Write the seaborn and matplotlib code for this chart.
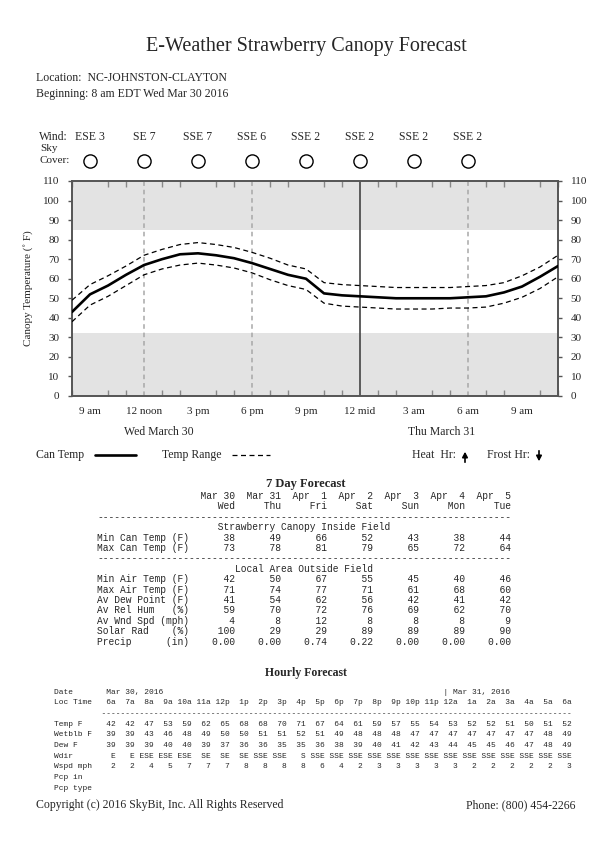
import matplotlib
matplotlib.use("Agg")
import matplotlib.pyplot as plt
import matplotlib.transforms as mtransforms
from matplotlib.lines import Line2D
from matplotlib.patches import FancyArrowPatch
from matplotlib.ticker import FixedLocator
import seaborn as sns

# hours since midnight Wed (8 am Wed .. 11 am Thu)
hours = [8, 9, 10, 11, 12, 13, 14, 15, 16, 17, 18, 19, 20, 21,
         22, 23, 24, 25, 26, 27, 28, 29, 30, 31, 32, 33, 34, 35]
can_temp = [43, 52, 56.5, 62, 67, 70, 72.5, 73, 72, 70.5, 68, 65, 62, 60,
            52.5, 51.5, 51, 50.5, 50, 50, 50, 50, 50.5, 51, 53, 56, 61, 66.5]
range_hi = [49, 57, 61.5, 66.5, 72, 75, 77.5, 78.5, 77.5, 76, 73.5, 70.5, 67, 65,
            58, 57, 56.5, 56, 55.5, 55.5, 55.5, 55.5, 56, 56.5, 58, 61.5, 66, 72]
range_lo = [38, 46.5, 51, 56.5, 62, 65, 67, 68, 67, 65.5, 63, 59.5, 56.5, 54.5,
            47.5, 46, 45.5, 45, 44.5, 44.5, 44.5, 45, 45, 45.5, 47.5, 50.5, 55, 61]

tick_hours = [9, 12, 15, 18, 21, 24, 27, 30, 33]
tick_labels = ["9 am", "12 noon", "3 pm", "6 pm", "9 pm", "12 mid", "3 am", "6 am", "9 am"]

wind_hours = [9, 12, 15, 18, 21, 24, 27, 30]
winds = ["ESE 3", "SE 7", "SSE 7", "SSE 6", "SSE 2", "SSE 2", "SSE 2", "SSE 2"]

# 7 day forecast
dates7 = ["Mar 30", "Mar 31", "Apr  1", "Apr  2", "Apr  3", "Apr  4", "Apr  5"]
days7 = ["Wed", "Thu", "Fri", "Sat", "Sun", "Mon", "Tue"]
min_can = [38, 49, 66, 52, 43, 38, 44]
max_can = [73, 78, 81, 79, 65, 72, 64]
min_air = [42, 50, 67, 55, 45, 40, 46]
max_air = [71, 74, 77, 71, 61, 68, 60]
dew_pt = [41, 54, 62, 56, 42, 41, 42]
rel_hum = [59, 70, 72, 76, 69, 62, 70]
wnd_spd = [4, 8, 12, 8, 8, 8, 9]
solar = [100, 29, 29, 89, 89, 89, 90]
precip = [0.00, 0.00, 0.74, 0.22, 0.00, 0.00, 0.00]

# hourly forecast
hr_labels = ["6a", "7a", "8a", "9a", "10a", "11a", "12p", "1p", "2p", "3p", "4p", "5p", "6p",
             "7p", "8p", "9p", "10p", "11p", "12a", "1a", "2a", "3a", "4a", "5a", "6a"]
hr_temp = [42, 42, 47, 53, 59, 62, 65, 68, 68, 70, 71, 67, 64, 61, 59, 57, 55, 54, 53, 52, 52, 51, 50, 51, 52]
hr_wetblb = [39, 39, 43, 46, 48, 49, 50, 50, 51, 51, 52, 51, 49, 48, 48, 48, 47, 47, 47, 47, 47, 47, 47, 48, 49]
hr_dew = [39, 39, 39, 40, 40, 39, 37, 36, 36, 35, 35, 36, 38, 39, 40, 41, 42, 43, 44, 45, 45, 46, 47, 48, 49]
hr_wdir = ["E", "E", "ESE", "ESE", "ESE", "SE", "SE", "SE", "SSE", "SSE", "S", "SSE", "SSE",
           "SSE", "SSE", "SSE", "SSE", "SSE", "SSE", "SSE", "SSE", "SSE", "SSE", "SSE", "SSE"]
hr_wspd = [2, 2, 4, 5, 7, 7, 7, 8, 8, 8, 8, 6, 4, 2, 3, 3, 3, 3, 3, 2, 2, 2, 2, 2, 3]

sns.set_theme(style="white")
plt.rcParams["font.family"] = ["Liberation Serif", "DejaVu Serif"]

W, H = 612, 864
fig = plt.figure(figsize=(W / 100, H / 100), dpi=100)


def fx(x):
    return x / W


def fy(y):
    return 1 - y / H


ax = fig.add_axes([fx(72), fy(396), (558 - 72) / W, (396 - 181) / H])
ax.set_xlim(8, 35)
ax.set_ylim(0, 110)

# shaded bands
ax.axhspan(0, 32, color="#e3e3e3", lw=0, zorder=0)
ax.axhspan(85, 110, color="#e3e3e3", lw=0, zorder=0)
for h in [12, 18, 30]:
    ax.axvline(h, color="#a8a8a8", lw=1.1, ls=(0, (3, 2.5)), zorder=1)
ax.axvline(24, color="#444444", lw=1.2, zorder=1)

sns.lineplot(x=hours, y=range_hi, ax=ax, color="black", lw=0.9, ls=(0, (4, 2.8)), zorder=3)
sns.lineplot(x=hours, y=range_lo, ax=ax, color="black", lw=0.9, ls=(0, (4, 2.8)), zorder=3)
sns.lineplot(x=hours, y=can_temp, ax=ax, color="black", lw=1.9, zorder=4)

for s in ax.spines.values():
    s.set_color("#555555")
    s.set_linewidth(1.4)

ax.xaxis.set_major_locator(FixedLocator(tick_hours))
ax.set_xticklabels(tick_labels)
ax.xaxis.set_minor_locator(FixedLocator(hours))
ax.tick_params(axis="x", which="major", length=0, pad=8, labelsize=8)
ax.tick_params(axis="x", which="minor", direction="in", length=4, width=1,
               color="#888888", bottom=True, top=True)
ax.set_yticks(range(0, 111, 10))
ax.tick_params(axis="y", which="major", direction="out", length=3, width=1,
               color="#555555", labelsize=8, left=True, right=True,
               labelleft=True, labelright=True, pad=6)
ax.set_xlabel("")
ax.set_ylabel("")

fig.text(fx(28), fy(288), "Canopy Temperature (\u02da F)", rotation=90,
         ha="center", va="center", fontsize=8)

# header
fig.text(0.5, fy(47), "E-Weather Strawberry Canopy Forecast", ha="center", va="center", fontsize=14.5)
fig.text(fx(36), fy(78), "Location:  NC-JOHNSTON-CLAYTON", ha="left", va="center", fontsize=8.5)
fig.text(fx(36), fy(94), "Beginning: 8 am EDT Wed Mar 30 2016", ha="left", va="center", fontsize=8.5)

# wind and sky cover row
blend = mtransforms.blended_transform_factory(ax.transData, fig.transFigure)
fig.text(fx(39), fy(137), "Wind:", ha="left", va="center", fontsize=8.5)
fig.text(fx(40), fy(148.5), "Sky", ha="left", va="center", fontsize=8)
fig.text(fx(39), fy(160.5), "Cover:", ha="left", va="center", fontsize=8)
for h, w in zip(wind_hours, winds):
    ax.text(h, fy(137), w, transform=blend, ha="center", va="center", fontsize=8.5)
ax.plot(wind_hours, [fy(161)] * len(wind_hours), transform=blend, ls="none", marker="o",
        ms=9.5, mfc="white", mec="black", mew=1, clip_on=False)

# day labels
fig.text(fx(159), fy(432), "Wed March 30", ha="center", va="center", fontsize=8.5)
fig.text(fx(442), fy(432), "Thu March 31", ha="center", va="center", fontsize=8.5)

# legend row
fig.text(fx(36), fy(455), "Can Temp", ha="left", va="center", fontsize=8.5)
fig.add_artist(Line2D([fx(95), fx(136)], [fy(455), fy(455)], color="black", lw=1.9))
fig.text(fx(162), fy(455), "Temp Range", ha="left", va="center", fontsize=8.5)
fig.add_artist(Line2D([fx(232), fx(270)], [fy(455), fy(455)], color="black", lw=0.9,
                      ls=(0, (4, 2.8))))
fig.text(fx(412), fy(455), "Heat  Hr:", ha="left", va="center", fontsize=8.5)
fig.text(fx(487), fy(455), "Frost Hr:", ha="left", va="center", fontsize=8.5)
fig.add_artist(FancyArrowPatch((fx(465), fy(465)), (fx(465), fy(449)),
               transform=fig.transFigure, arrowstyle="-|>,head_length=3,head_width=1.6",
               color="black", lw=1.2))
fig.add_artist(FancyArrowPatch((fx(539), fy(448)), (fx(539), fy(464)),
               transform=fig.transFigure, arrowstyle="-|>,head_length=3,head_width=1.6",
               color="black", lw=1.2))

# 7 day forecast table
fig.text(0.5, fy(484.5), "7 Day Forecast", ha="center", va="center", fontsize=9,
         fontweight="bold")


def row(label, vals, fmt="%8d"):
    return "%-16s" % label + "".join(fmt % v for v in vals)


table7 = [
    " " * 16 + "".join("%8s" % d for d in dates7),
    " " * 16 + "".join("%8s" % d for d in days7),
    "-" * 72,
    "Strawberry Canopy Inside Field".center(72),
    row("Min Can Temp (F)", min_can),
    row("Max Can Temp (F)", max_can),
    "-" * 72,
    "Local Area Outside Field".center(72),
    row("Min Air Temp (F)", min_air),
    row("Max Air Temp (F)", max_air),
    row("Av Dew Point (F)", dew_pt),
    row("Av Rel Hum   (%)", rel_hum),
    row("Av Wnd Spd (mph)", wnd_spd),
    row("Solar Rad    (%)", solar),
    row("Precip      (in)", precip, "%8.2f"),
]
for i, line in enumerate(table7):
    fig.text(fx(97), fy(496 + i * 10.4), line, ha="left", va="center", fontsize=6.9,
             family="Liberation Mono")

# hourly forecast table
fig.text(0.5, fy(673), "Hourly Forecast", ha="center", va="center", fontsize=8.5,
         fontweight="bold")


def hrow(label, vals):
    return "%-9s" % label + "".join("%4s" % v for v in vals)


date_line = "Date       Mar 30, 2016"
date_line = date_line + " " * (82 - len(date_line)) + "| Mar 31, 2016"
hourly = [
    date_line,
    hrow("Loc Time", hr_labels),
    " " * 10 + "-" * 99,
    hrow("Temp F", hr_temp),
    hrow("Wetblb F", hr_wetblb),
    hrow("Dew F", hr_dew),
    hrow("Wdir", hr_wdir),
    hrow("Wspd mph", hr_wspd),
    "Pcp in",
    "Pcp type",
]
for i, line in enumerate(hourly):
    fig.text(fx(54), fy(692 + i * 10.7), line, ha="left", va="center", fontsize=5.66,
             family="Liberation Mono")

# footer
fig.text(fx(36), fy(805), "Copyright (c) 2016 SkyBit, Inc. All Rights Reserved",
         ha="left", va="center", fontsize=8.5)
fig.text(fx(576), fy(805), "Phone: (800) 454-2266", ha="right", va="center", fontsize=8.5)

fig.savefig("out.png", dpi=100)
